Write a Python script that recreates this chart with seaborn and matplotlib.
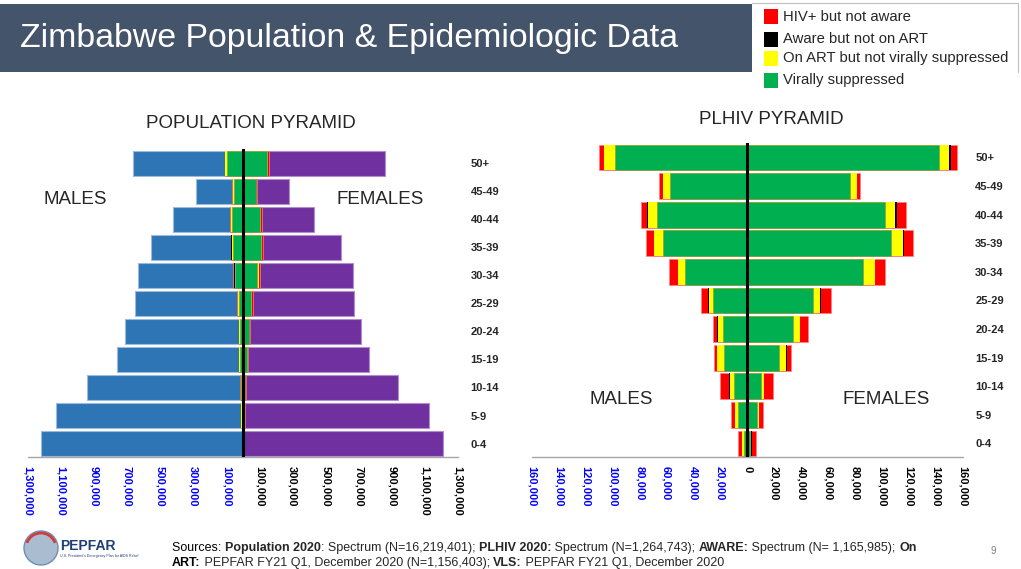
"""
Zimbabwe population pyramid and PLHIV cascade pyramid (2020).
"""
import matplotlib
matplotlib.use('Agg')

import matplotlib.pyplot as plt
import matplotlib.patches as mpatches
import numpy as np
import seaborn as sns

# ---- data -------------------------------------------------------------
AGE = ['50+', '45-49', '40-44', '35-39', '30-34', '25-29',
       '20-24', '15-19', '10-14', '5-9', '0-4']

# population 2020 (people)
POP_MALE = [666000, 287000, 422000, 559000, 636000, 656000,
            716000, 763000, 944000, 1128000, 1224000]
POP_FEMALE = [860000, 277000, 432000, 591000, 664000, 670000,
              716000, 761000, 940000, 1122000, 1212000]

# PLHIV cascade, thousands of people
MALE_VLS = [98.7, 57.3, 67.3, 63.0, 46.1, 25.6, 17.9, 17.6, 10.2, 7.2, 2.5]
MALE_ART_NOT_VLS = [7.5, 5.2, 6.4, 6.0, 5.2, 3.0, 4.2, 5.0, 3.0, 2.2, 1.2]
MALE_AWARE_NOT_ART = [0.5, 0.3, 0.5, 0.7, 0.5, 0.5, 0.2, 0.1, 0.1, 0.1, 0.1]
MALE_NOT_AWARE = [3.7, 2.5, 4.7, 5.7, 6.7, 5.5, 3.5, 2.2, 6.7, 2.5, 3.0]

FEMALE_VLS = [142.3, 76.1, 102.2, 106.6, 86.0, 48.8, 33.9, 23.3, 9.9, 6.9, 1.7]
FEMALE_ART_NOT_VLS = [7.5, 5.0, 7.4, 9.2, 8.5, 5.0, 5.0, 5.7, 2.5, 1.7, 1.3]
FEMALE_AWARE_NOT_ART = [1.2, 0.3, 1.3, 0.7, 0.7, 0.7, 0.3, 0.1, 0.1, 0.1, 0.1]
FEMALE_NOT_AWARE = [4.5, 2.5, 6.7, 6.5, 7.2, 7.5, 6.0, 3.2, 6.6, 2.8, 3.4]

POP_TICKS = [-1300000, -1100000, -900000, -700000, -500000, -300000, -100000,
             100000, 300000, 500000, 700000, 900000, 1100000, 1300000]
PLHIV_TICKS = [-160000, -140000, -120000, -100000, -80000, -60000, -40000,
               -20000, 0, 20000, 40000, 60000, 80000, 100000, 120000,
               140000, 160000]

LEGEND_LABELS = ['HIV+ but not aware', 'Aware but not on ART',
                 'On ART but not virally suppressed', 'Virally suppressed']

BLUE, PURPLE = '#2E75B6', '#7030A0'
RED, BLACK, YELLOW, GREEN = '#FF0000', '#000000', '#FFFF00', '#00B050'
BAR_BLUE = '#0000FF'

sns.set_style('white')
plt.rcParams['font.family'] = ['Liberation Sans', 'DejaVu Sans']

W, H = 1021, 569
fig = plt.figure(figsize=(W / 100, H / 100), dpi=100)


def px_axes(x0, y0, x1, y1):
    return fig.add_axes([x0 / W, 1 - y1 / H, (x1 - x0) / W, (y1 - y0) / H])


def draw_cascade(ax, scale, width):
    """Stack the cascade outward from zero: green, yellow, black, red."""
    for sign, segs in ((-1, (MALE_VLS, MALE_ART_NOT_VLS, MALE_AWARE_NOT_ART, MALE_NOT_AWARE)),
                       (1, (FEMALE_VLS, FEMALE_ART_NOT_VLS, FEMALE_AWARE_NOT_ART, FEMALE_NOT_AWARE))):
        green, yellow, black, red = (np.array(s) for s in segs)
        cum_yellow = green + yellow
        cum_black = cum_yellow + black
        cum_red = cum_black + red
        for vals, col, ec in ((cum_red, RED, '#FF8080'), (cum_black, BLACK, 'none'),
                              (cum_yellow, YELLOW, 'none'), (green, GREEN, '#8DA040')):
            sns.barplot(x=sign * vals * scale, y=AGE, orient='h', color=col,
                        width=width, saturation=1, errorbar=None, ax=ax,
                        edgecolor=ec, linewidth=0.5)


def style_axes(ax, ticks, xlim):
    ax.set_xlim(*xlim)
    ax.set_ylim(10.48, -0.5)
    ax.set(xlabel='', ylabel='')
    for s in ('top', 'left', 'right'):
        ax.spines[s].set_visible(False)
    ax.spines['bottom'].set_color('#A6A6A6')
    ax.spines['bottom'].set_linewidth(1)
    ax.set_xticks(ticks)
    ax.set_xticklabels(['{:,}'.format(abs(t)) for t in ticks],
                       rotation=-90, fontsize=8, fontweight='bold')
    for t, lab in zip(ticks, ax.get_xticklabels()):
        lab.set_color(BAR_BLUE if t < 0 else 'black')
    ax.tick_params(axis='x', direction='out', length=3.6, width=0.8,
                   color='#A6A6A6', pad=3)
    ax.yaxis.tick_right()
    ax.tick_params(axis='y', length=0, pad=9)
    for lab in ax.get_yticklabels():
        lab.set_fontsize(8)
        lab.set_fontweight('bold')
    ax.axvline(0, color='black', lw=2.2, zorder=6)
    ax.patch.set_alpha(0)


# ---- population pyramid ----------------------------------------------
ax1 = px_axes(28, 149.2, 458, 457)
sns.barplot(x=-np.array(POP_MALE), y=AGE, orient='h', color=BLUE, width=0.89,
            saturation=1, errorbar=None, ax=ax1, edgecolor='#9DB9DC', linewidth=0.8)
sns.barplot(x=np.array(POP_FEMALE), y=AGE, orient='h', color=PURPLE, width=0.89,
            saturation=1, errorbar=None, ax=ax1, edgecolor='#B08FCB', linewidth=0.8)
draw_cascade(ax1, 1000, 0.89)
style_axes(ax1, POP_TICKS, (-1300000, 1300000))

# ---- PLHIV pyramid ----------------------------------------------------
ax2 = px_axes(532, 143.2, 962.7, 457.2)
draw_cascade(ax2, 1000, 0.9)
style_axes(ax2, PLHIV_TICKS, (-160000, 160000))

# ---- slide decorations (pixel coordinates) ---------------------------
bg = fig.add_axes([0, 0, 1, 1])
bg.set_xlim(0, W)
bg.set_ylim(H, 0)
bg.axis('off')
bg.set_zorder(5)
bg.patch.set_alpha(0)

bg.add_patch(mpatches.Rectangle((0, 4), 752, 68, color='#44546A', lw=0))
bg.text(20, 38, 'Zimbabwe Population & Epidemiologic Data', color='white',
        fontsize=24.4, va='center', ha='left')

bg.plot([752, 1018, 1018], [3, 3, 72], color='#BFBFBF', lw=0.8)
for i, (lab, col) in enumerate(zip(LEGEND_LABELS, [RED, BLACK, YELLOW, GREEN])):
    yc = [16.7, 39, 58.3, 80][i]
    bg.add_patch(mpatches.Rectangle((764, yc - 7.5), 14, 15, color=col, lw=0))
    bg.text(783, yc, lab, fontsize=10.7, va='center', ha='left')

bg.text(251, 123, 'POPULATION PYRAMID', fontsize=13.5, ha='center', va='center')
bg.text(771.5, 119, 'PLHIV PYRAMID', fontsize=13.5, ha='center', va='center')
bg.text(75, 199, 'MALES', fontsize=13.5, ha='center', va='center')
bg.text(380.5, 199, 'FEMALES', fontsize=13.5, ha='center', va='center')
bg.text(621.7, 399, 'MALES', fontsize=13.5, ha='center', va='center')
bg.text(885.8, 399, 'FEMALES', fontsize=13.5, ha='center', va='center')

# logo
bg.add_patch(mpatches.Circle((41, 548), 17, facecolor='#A9BCD0',
                             edgecolor='#6F8FAF', lw=1))
bg.add_patch(mpatches.Arc((41, 548), 30, 30, theta1=200, theta2=340,
                          color='#D23B3B', lw=2))
bg.text(60, 546, 'PEPFAR', fontsize=10, fontweight='bold', color='#1F3F77',
        va='center', ha='left')
bg.text(60, 556, "U.S. President's Emergency Plan for AIDS Relief",
        fontsize=2.6, color='#1F3F77', va='center', ha='left')

# sources footer, mixed bold / regular pieces
FOOT = [
    [('Sources: ', 'normal'), ('Population 2020', 'bold'),
     (': Spectrum (N=16,219,401); ', 'normal'), ('PLHIV 2020:', 'bold'),
     (' Spectrum (N=1,264,743); ', 'normal'), ('AWARE:', 'bold'),
     (' Spectrum (N= 1,165,985); ', 'normal'), ('On', 'bold')],
    [('ART:', 'bold'), (' PEPFAR FY21 Q1, December 2020 (N=1,156,403); ', 'normal'),
     ('VLS:', 'bold'), (' PEPFAR FY21 Q1, December 2020', 'normal')],
]
for line, y in zip(FOOT, [548, 563]):
    prev = None
    for txt, wt in line:
        if prev is None:
            prev = bg.text(172, y, txt, fontsize=9, fontweight=wt,
                           va='center', ha='left', color='#000000')
        else:
            prev = bg.annotate(txt, xy=(1, 0), xycoords=prev, fontsize=9,
                               fontweight=wt, va='bottom', ha='left')

bg.text(993, 551, '9', fontsize=7, color='#7F7F7F', va='center', ha='center')

fig.savefig('out.png', dpi=100)
plt.close(fig)
